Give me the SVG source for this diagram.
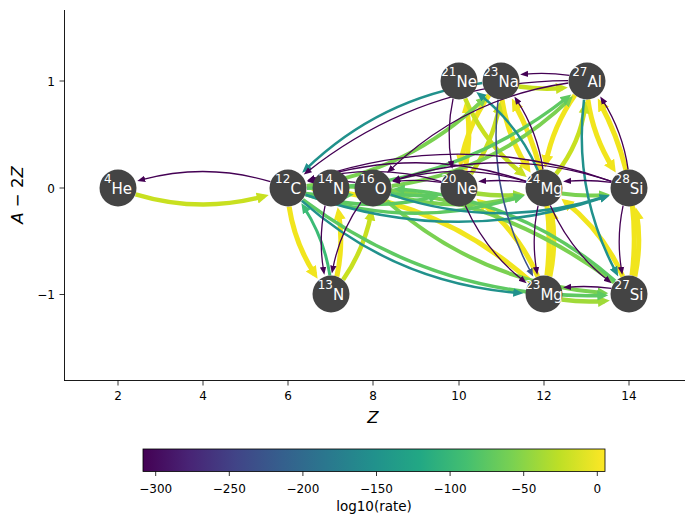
<svg xmlns="http://www.w3.org/2000/svg" width="693" height="525" viewBox="0 0 693 525">
<style>
text{font-family:"DejaVu Sans",Verdana,sans-serif;}
.e{fill:none;stroke-linecap:butt;}
.Y2{stroke:#f1e51d;stroke-width:5;marker-end:url(#mY2);}
.Y1{stroke:#c8e020;stroke-width:4.5;marker-end:url(#mY1);}
.YG{stroke:#a0da39;stroke-width:4.5;marker-end:url(#mYG);}
.G3{stroke:#7ad151;stroke-width:4;marker-end:url(#mG3);}
.G2{stroke:#5ec962;stroke-width:3.5;marker-end:url(#mG2);}
.G1{stroke:#3bbb75;stroke-width:3;marker-end:url(#mG1);}
.T{stroke:#21918c;stroke-width:2.5;marker-end:url(#mT);}
.B{stroke:#3b528b;stroke-width:1.5;marker-end:url(#mB);}
.P{stroke:#440154;stroke-width:1.3;marker-end:url(#mP);}
.node circle{fill:#444444;}
.lbl{fill:#ffffff;font-size:15px;text-anchor:middle;}
.sup{font-size:12px;}
.tick{stroke:#000;stroke-width:0.8;}
.tl{font-size:12px;fill:#000;}
</style>
<defs>
<marker id="mY2" viewBox="0 -8 16 16" markerWidth="16" markerHeight="16" refX="7.5" refY="0" orient="auto" markerUnits="userSpaceOnUse"><path d="M0,-6 L12.5,0 L0,6 Z" fill="#f1e51d"/></marker>
<marker id="mY1" viewBox="0 -8 16 16" markerWidth="16" markerHeight="16" refX="7" refY="0" orient="auto" markerUnits="userSpaceOnUse"><path d="M0,-5.5 L12,0 L0,5.5 Z" fill="#c8e020"/></marker>
<marker id="mYG" viewBox="0 -8 16 16" markerWidth="16" markerHeight="16" refX="7" refY="0" orient="auto" markerUnits="userSpaceOnUse"><path d="M0,-5.5 L12,0 L0,5.5 Z" fill="#a0da39"/></marker>
<marker id="mG3" viewBox="0 -8 16 16" markerWidth="16" markerHeight="16" refX="6" refY="0" orient="auto" markerUnits="userSpaceOnUse"><path d="M0,-5.2 L11,0 L0,5.2 Z" fill="#7ad151"/></marker>
<marker id="mG2" viewBox="0 -8 16 16" markerWidth="16" markerHeight="16" refX="6" refY="0" orient="auto" markerUnits="userSpaceOnUse"><path d="M0,-5 L11,0 L0,5 Z" fill="#5ec962"/></marker>
<marker id="mG1" viewBox="0 -8 16 16" markerWidth="16" markerHeight="16" refX="5" refY="0" orient="auto" markerUnits="userSpaceOnUse"><path d="M0,-4.5 L10,0 L0,4.5 Z" fill="#3bbb75"/></marker>
<marker id="mT" viewBox="0 -8 16 16" markerWidth="16" markerHeight="16" refX="5" refY="0" orient="auto" markerUnits="userSpaceOnUse"><path d="M0,-4.2 L10,0 L0,4.2 Z" fill="#21918c"/></marker>
<marker id="mB" viewBox="0 -8 16 16" markerWidth="16" markerHeight="16" refX="3" refY="0" orient="auto" markerUnits="userSpaceOnUse"><path d="M0,-3.4 L8,0 L0,3.4 Z" fill="#3b528b"/></marker>
<marker id="mP" viewBox="0 -8 16 16" markerWidth="16" markerHeight="16" refX="3" refY="0" orient="auto" markerUnits="userSpaceOnUse"><path d="M0,-3.2 L8,0 L0,3.2 Z" fill="#440154"/></marker>
<linearGradient id="viridis" x1="0" y1="0" x2="1" y2="0">
<stop offset="0" stop-color="#440154"/><stop offset="0.1" stop-color="#482475"/><stop offset="0.2" stop-color="#414487"/><stop offset="0.3" stop-color="#355f8d"/><stop offset="0.4" stop-color="#2a788e"/><stop offset="0.5" stop-color="#21918c"/><stop offset="0.6" stop-color="#22a884"/><stop offset="0.7" stop-color="#44bf70"/><stop offset="0.8" stop-color="#7ad151"/><stop offset="0.9" stop-color="#bddf26"/><stop offset="1" stop-color="#fde725"/>
</linearGradient>
</defs>
<rect width="693" height="525" fill="#ffffff"/>
<g id="axes">
<line x1="64.5" y1="10" x2="64.5" y2="380.5" stroke="#000" stroke-width="0.9"/>
<line x1="64" y1="380.5" x2="685" y2="380.5" stroke="#000" stroke-width="0.9"/>
<g class="tick">
<line x1="118" y1="380.5" x2="118" y2="385.5"/><line x1="203" y1="380.5" x2="203" y2="385.5"/><line x1="288" y1="380.5" x2="288" y2="385.5"/><line x1="373" y1="380.5" x2="373" y2="385.5"/><line x1="459" y1="380.5" x2="459" y2="385.5"/><line x1="544" y1="380.5" x2="544" y2="385.5"/><line x1="629" y1="380.5" x2="629" y2="385.5"/>
<line x1="59.5" y1="81" x2="64.5" y2="81"/><line x1="59.5" y1="188" x2="64.5" y2="188"/><line x1="59.5" y1="294.5" x2="64.5" y2="294.5"/>
</g>
<g class="tl" text-anchor="middle">
<text x="118" y="399.5">2</text><text x="203" y="399.5">4</text><text x="288" y="399.5">6</text><text x="373" y="399.5">8</text><text x="459" y="399.5">10</text><text x="544" y="399.5">12</text><text x="629" y="399.5">14</text>
</g>
<g class="tl" text-anchor="end">
<text x="55" y="85.5">1</text><text x="55" y="192.5">0</text><text x="55" y="299">−1</text>
</g>
<text x="373" y="423" font-size="16.5" font-style="oblique" text-anchor="middle">Z</text>
<text transform="translate(23,195) rotate(-90)" font-size="16.5" text-anchor="middle"><tspan font-style="oblique">A</tspan> − 2<tspan font-style="oblique">Z</tspan></text>
</g>
<g id="connectors">
<path class="e Y2" d="M289.1,206.6 Q294.8,243.5 314.9,274.5"/>
<path class="e Y2" d="M336.9,276.4 Q343.8,244.3 338.5,212.1"/>
<path class="e Y2" d="M530.2,281.1 Q437.0,198.8 313.7,189.1"/>
<path class="e Y2" d="M537.8,276.4 Q518.2,231.8 480.3,201.9"/>
<path class="e Y2" d="M464.9,170.4 Q472.0,137.8 466.5,105.1"/>
<path class="e Y2" d="M489.0,95.2 Q467.6,126.1 460.7,162.7"/>
<path class="e Y2" d="M502.0,99.6 Q507.7,137.0 527.9,168.5"/>
<path class="e Y2" d="M574.9,95.1 Q553.1,126.0 545.9,162.8"/>
<path class="e Y2" d="M587.9,99.6 Q593.2,136.8 613.1,168.3"/>
<path class="e Y2" d="M632.0,275.4 Q643.0,183.9 600.1,103.0"/>
<path class="e Y2" d="M549.9,276.4 Q556.8,244.3 551.5,212.1"/>
<path class="e Y2" d="M622.8,276.4 Q603.2,231.8 565.3,201.9"/>
<path class="e Y2" d="M634.9,276.4 Q641.8,244.3 636.5,212.1"/>
<path class="e Y2" d="M546.9,275.4 Q557.6,183.7 514.2,103.0"/>
<path class="e Y1" d="M135.6,194.3 Q199.8,213.6 263.9,196.3"/>
<path class="e Y1" d="M343.1,279.8 Q364.2,249.3 371.2,213.3"/>
<path class="e Y1" d="M471.0,173.8 Q492.4,142.9 499.3,106.3"/>
<path class="e Y1" d="M465.2,98.6 Q484.6,143.8 522.8,174.0"/>
<path class="e Y1" d="M556.1,173.9 Q580.4,143.0 585.1,106.3"/>
<path class="e Y1" d="M518.6,86.6 Q540.8,89.8 562.9,88.0"/>
<path class="e YG" d="M476.6,193.6 Q498.3,196.6 519.9,194.9"/>
<path class="e YG" d="M561.6,299.6 Q583.3,302.6 604.9,300.9"/>
<path class="e G3" d="M561.6,193.6 Q583.3,196.6 604.9,194.9"/>
<path class="e G3" d="M390.6,194.3 Q455.3,213.8 519.9,196.3"/>
<path class="e G3" d="M306.7,185.9 Q409.3,171.1 483.3,99.6"/>
<path class="e G3" d="M391.7,186.0 Q494.8,171.3 569.3,99.6"/>
<path class="e G3" d="M386.8,200.9 Q480.0,283.2 603.3,292.9"/>
<path class="e G3" d="M614.2,282.4 Q480.3,181.7 313.7,186.6"/>
<path class="e G2" d="M305.6,193.6 Q327.3,196.6 348.9,194.9"/>
<path class="e G2" d="M390.6,193.6 Q412.8,196.8 434.9,195.0"/>
<path class="e G2" d="M305.6,194.3 Q370.3,213.8 434.9,196.3"/>
<path class="e G2" d="M305.6,194.6 Q412.8,230.8 519.9,196.8"/>
<path class="e G2" d="M306.9,188.3 Q453.0,187.5 567.3,97.5"/>
<path class="e G2" d="M302.9,199.7 Q436.7,300.3 603.3,295.4"/>
<path class="e G2" d="M615.2,281.1 Q522.0,198.8 398.7,189.1"/>
<path class="e G1" d="M329.9,275.4 Q324.2,238.6 304.1,207.5"/>
<path class="e T" d="M390.6,194.6 Q497.8,230.8 604.9,196.8"/>
<path class="e T" d="M305.6,194.7 Q455.3,247.8 604.9,197.0"/>
<path class="e T" d="M482.3,83.1 Q379.8,97.9 305.7,169.4"/>
<path class="e T" d="M301.8,200.9 Q395.0,283.2 518.3,292.9"/>
<path class="e T" d="M537.9,170.4 Q518.4,125.2 480.2,95.0"/>
<path class="e T" d="M584.0,99.6 Q573.0,191.1 615.9,272.0"/>
<path class="e B" d="M498.1,99.6 Q487.5,191.3 530.8,272.0"/>
<path class="e P" d="M270.4,181.7 Q206.3,162.4 142.1,179.7"/>
<path class="e P" d="M325.1,205.6 Q318.2,237.8 323.5,269.9"/>
<path class="e P" d="M361.0,202.2 Q339.8,232.7 332.8,268.7"/>
<path class="e P" d="M355.4,182.4 Q333.8,179.4 312.1,181.1"/>
<path class="e P" d="M441.4,182.4 Q419.3,179.2 397.1,181.1"/>
<path class="e P" d="M526.4,182.4 Q504.8,179.4 483.1,181.1"/>
<path class="e P" d="M611.4,182.4 Q589.8,179.4 568.1,181.1"/>
<path class="e P" d="M441.4,181.7 Q376.8,162.2 312.1,179.7"/>
<path class="e P" d="M526.4,181.4 Q419.3,145.2 312.1,179.3"/>
<path class="e P" d="M526.4,181.7 Q461.8,162.2 397.1,179.7"/>
<path class="e P" d="M611.4,181.4 Q504.3,145.2 397.1,179.3"/>
<path class="e P" d="M611.4,181.3 Q461.8,128.2 312.1,179.0"/>
<path class="e P" d="M568.1,80.7 Q422.0,81.5 307.7,171.5"/>
<path class="e P" d="M568.3,83.0 Q465.3,97.7 390.7,169.4"/>
<path class="e P" d="M465.3,205.6 Q484.8,250.2 522.7,280.1"/>
<path class="e P" d="M453.1,98.6 Q446.0,131.3 451.5,163.9"/>
<path class="e P" d="M543.0,169.4 Q537.4,132.0 517.1,100.6"/>
<path class="e P" d="M569.4,75.4 Q547.3,72.2 525.1,74.1"/>
<path class="e P" d="M628.1,169.4 Q622.8,132.2 602.9,100.7"/>
<path class="e P" d="M611.4,288.4 Q589.8,285.4 568.1,287.1"/>
<path class="e P" d="M538.1,205.6 Q531.2,237.8 536.5,269.9"/>
<path class="e P" d="M550.3,205.6 Q569.8,250.2 607.7,280.1"/>
<path class="e P" d="M623.1,205.6 Q616.2,237.8 621.5,269.9"/>
</g>
<g id="n-he4" class="node"><circle cx="118" cy="188" r="18.5"/><text class="lbl" x="118" y="193.5"><tspan class="sup" dy="-11">4</tspan><tspan dy="11">He</tspan></text></g>
<g id="n-c12" class="node"><circle cx="288" cy="188" r="18.5"/><text class="lbl" x="288" y="193.5"><tspan class="sup" dy="-11">12</tspan><tspan dy="11">C</tspan></text></g>
<g id="n-n14" class="node"><circle cx="331" cy="188" r="18.5"/><text class="lbl" x="331" y="193.5"><tspan class="sup" dy="-11">14</tspan><tspan dy="11">N</tspan></text></g>
<g id="n-o16" class="node"><circle cx="373" cy="188" r="18.5"/><text class="lbl" x="373" y="193.5"><tspan class="sup" dy="-11">16</tspan><tspan dy="11">O</tspan></text></g>
<g id="n-ne20" class="node"><circle cx="459" cy="188" r="18.5"/><text class="lbl" x="459" y="193.5"><tspan class="sup" dy="-11">20</tspan><tspan dy="11">Ne</tspan></text></g>
<g id="n-mg24" class="node"><circle cx="544" cy="188" r="18.5"/><text class="lbl" x="544" y="193.5"><tspan class="sup" dy="-11">24</tspan><tspan dy="11">Mg</tspan></text></g>
<g id="n-si28" class="node"><circle cx="629" cy="188" r="18.5"/><text class="lbl" x="629" y="193.5"><tspan class="sup" dy="-11">28</tspan><tspan dy="11">Si</tspan></text></g>
<g id="n-n13" class="node"><circle cx="331" cy="294" r="18.5"/><text class="lbl" x="331" y="299.5"><tspan class="sup" dy="-11">13</tspan><tspan dy="11">N</tspan></text></g>
<g id="n-mg23" class="node"><circle cx="544" cy="294" r="18.5"/><text class="lbl" x="544" y="299.5"><tspan class="sup" dy="-11">23</tspan><tspan dy="11">Mg</tspan></text></g>
<g id="n-si27" class="node"><circle cx="629" cy="294" r="18.5"/><text class="lbl" x="629" y="299.5"><tspan class="sup" dy="-11">27</tspan><tspan dy="11">Si</tspan></text></g>
<g id="n-ne21" class="node"><circle cx="459" cy="81" r="18.5"/><text class="lbl" x="459" y="86.5"><tspan class="sup" dy="-11">21</tspan><tspan dy="11">Ne</tspan></text></g>
<g id="n-na23" class="node"><circle cx="501" cy="81" r="18.5"/><text class="lbl" x="501" y="86.5"><tspan class="sup" dy="-11">23</tspan><tspan dy="11">Na</tspan></text></g>
<g id="n-al27" class="node"><circle cx="587" cy="81" r="18.5"/><text class="lbl" x="587" y="86.5"><tspan class="sup" dy="-11">27</tspan><tspan dy="11">Al</tspan></text></g>
<g id="colorbar">
<rect x="143" y="449" width="462" height="22.5" fill="url(#viridis)" stroke="#000" stroke-width="0.8"/>
<g class="tick">
<line x1="155.7" y1="471.5" x2="155.7" y2="476"/><line x1="229.3" y1="471.5" x2="229.3" y2="476"/><line x1="302.9" y1="471.5" x2="302.9" y2="476"/><line x1="376.5" y1="471.5" x2="376.5" y2="476"/><line x1="450.1" y1="471.5" x2="450.1" y2="476"/><line x1="523.7" y1="471.5" x2="523.7" y2="476"/><line x1="597.3" y1="471.5" x2="597.3" y2="476"/>
</g>
<g class="tl" text-anchor="middle">
<text x="155.7" y="493">−300</text><text x="229.3" y="493">−250</text><text x="302.9" y="493">−200</text><text x="376.5" y="493">−150</text><text x="450.1" y="493">−100</text><text x="523.7" y="493">−50</text><text x="597.3" y="493">0</text>
</g>
<text x="374" y="511" font-size="13.5" text-anchor="middle">log10(rate)</text>
</g>
</svg>
